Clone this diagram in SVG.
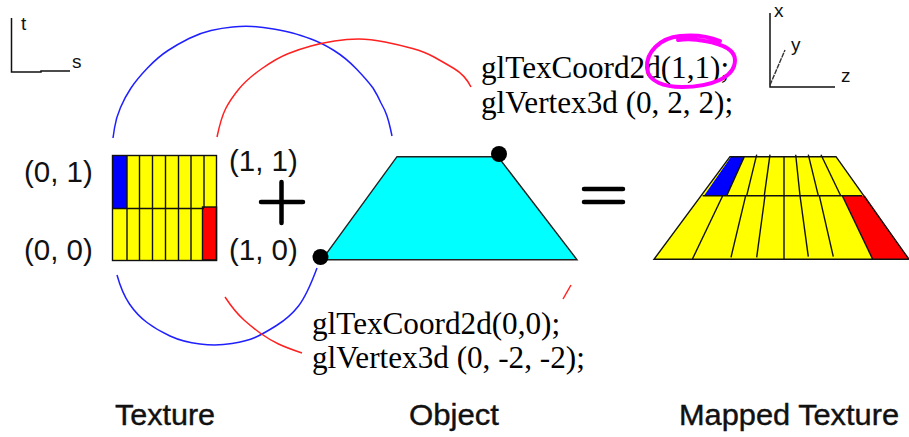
<svg xmlns="http://www.w3.org/2000/svg" width="909" height="437" viewBox="0 0 909 437">
<style>
.s{font-family:"Liberation Sans",Arial,sans-serif;fill:#111}
.l{font-size:29.500px}
.c{font-size:29px;stroke:#111;stroke-width:.4}
.a{font-size:19px}
.t{font-family:"Liberation Serif","Times New Roman",serif;font-size:31.200px;fill:#000}
.k{fill:none;stroke:#111;stroke-width:1.5}
.g{stroke:#111;stroke-width:1.4;fill:none}
.b{fill:none;stroke:#2020ff;stroke-width:1.500;stroke-linejoin:round}
.r{fill:none;stroke:#ff2020;stroke-width:1.500;stroke-linejoin:round}
</style>
<g id="axes-st">
<path class="k" d="M11.500 18V72H41V71H70"/>
<text class="s a" x="21" y="30">t</text>
<text class="s a" x="72" y="68">s</text>
</g>
<g id="axes-xyz">
<path class="k" d="M770 13V87H835"/>
<path d="M770 85L785 50" fill="none" stroke="#333" stroke-width="1.400" stroke-dasharray="5 1"/>
<text class="s a" x="774" y="17">x</text>
<text class="s a" x="791" y="51">y</text>
<text class="s a" x="841" y="82">z</text>
</g>
<g id="connectors">
<path class="b" d="M113 138L114.500 128Q116 118 120.500 107.500Q125 97 131 88Q137 79 147.500 68Q158 57 168 50.500Q178 44 189 38.500Q200 33 211 30.500Q222 28 232.500 27Q243 26 252.500 26.500Q262 27 273.500 29Q285 31 292.500 33Q300 35 311 39Q322 43 334 50.500Q346 58 356.500 69Q367 80 373 88Q378 96 381 103Q385 110 387 116Q389 122 390.500 129L392 136"/>
<path class="r" d="M217 137Q221 118 225.500 109Q230 100 238.500 89.500Q247 79 262 68.500Q277 58 288.500 53.500Q300 49 311 46Q322 43 334.500 41Q347 39 358.500 39Q370 39 385 42Q400 45 412.500 48.500Q425 52 434 57Q443 62 454 68.500Q465 75 471 87"/>
<path class="b" d="M117 275Q122 293 129.500 304Q137 315 147 322.500Q157 330 170 336Q183 342 200 344Q217 346 232 343.500Q247 341 255 337.500Q263 334 276.500 325.500Q290 317 298.500 306Q307 295 317 268"/>
<path class="r" d="M225 297Q235 312 244 320Q253 328 261.500 334Q270 340 278.500 344Q287 348 302 353"/>
<path class="r" d="M571 285L563 299"/>
</g>
<g id="texture">
<rect x="112.500" y="155.500" width="104" height="105" fill="#ff0"/>
<rect x="113" y="156" width="14" height="52" fill="#00f"/>
<rect x="202.500" y="207" width="14" height="53" fill="#f00"/>
<path class="g" d="M127 155V260M139.500 155V260M152.500 155V260M165.500 155V260M178.500 155V260M191 155V260M204 155V208M112 208.500H204"/>
<rect class="g" x="112.500" y="155.500" width="104" height="105"/>
<rect class="g" x="202.500" y="207" width="14" height="53"/>
<text class="s l" x="24" y="182">(0, 1)</text>
<text class="s l" x="24" y="260">(0, 0)</text>
<text class="s l" x="229" y="171">(1, 1)</text>
<text class="s l" x="229" y="260">(1, 0)</text>
</g>
<g id="plus">
<path d="M261 202H303M281.500 182V223" stroke="#000" stroke-width="4.500" stroke-linecap="round"/>
</g>
<g id="object">
<path d="M397 156.700H498L577 259.700H322Z" fill="#0ff" stroke="#222" stroke-width="1.400"/>
<circle cx="499" cy="154" r="8" fill="#000"/>
<circle cx="320.500" cy="257" r="8" fill="#000"/>
</g>
<g id="equals">
<path d="M584 189H623M584 202H623" stroke="#000" stroke-width="4.500" stroke-linecap="round"/>
</g>
<g id="mapped">
<path d="M730 156.700H836L909 259.300H654Z" fill="#ff0"/>
<path d="M731 156.700H744.300L726.700 195.700H704Z" fill="#00f"/>
<path d="M842.300 195.700H865L909 259.300H872.700Z" fill="#f00"/>
<path class="g" d="M730 156.700H836L909 259.300H654ZM702.700 195.700H862M744.300 156.700L726.700 195.700M756.700 154.700L746.700 195.700M770 154.700L764.300 195.700M784 156.700V259.300M795.700 154.700L800 195.700M808.300 154.700L818.300 195.700M821 154.700L840.700 195.700M722.700 195.700L692.300 259.300M745.700 195.700L731 257.300M765 195.700L756.700 257.300M800 195.700L808.300 256.700M819.300 195.700L833.300 256.700M842.300 195.700L872.700 259.300"/>
</g>
<g id="code">
<text class="t" x="481" y="78">glTexCoord2d(1,1);</text>
<text class="t" x="481" y="113">glVertex3d (0, 2, 2);</text>
<text class="t" x="312" y="334">glTexCoord2d(0,0);</text>
<text class="t" x="312" y="368">glVertex3d (0, -2, -2);</text>
</g>
<g id="highlight">
<path d="M720 41C705 35 690 35 680 36C660 38 646 52 647 68C648 82 665 87 682 87C710 87 735 78 735 60C735 50 722 44 705 41C695 39 685 39 678 40" fill="none" stroke="#f0f" stroke-width="4" stroke-linecap="round"/>
</g>
<g id="captions">
<text class="s c" x="115" y="425" textLength="100" lengthAdjust="spacingAndGlyphs">Texture</text>
<text class="s c" x="409" y="425" textLength="90" lengthAdjust="spacingAndGlyphs">Object</text>
<text class="s c" x="679" y="425" textLength="220" lengthAdjust="spacingAndGlyphs">Mapped Texture</text>
</g>
</svg>
